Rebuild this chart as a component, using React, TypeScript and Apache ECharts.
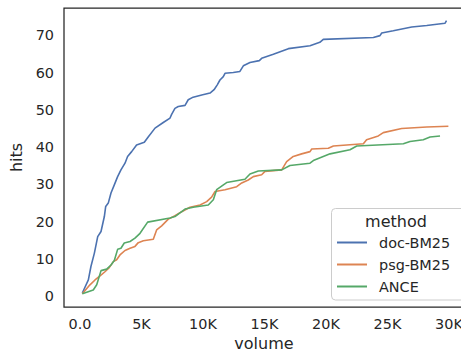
import React, { useEffect, useRef } from "react";
import * as echarts from "echarts";

const seriesNames = ["doc-BM25", "psg-BM25", "ANCE"];
const seriesColors = ["#4c72b0", "#dd8452", "#55a868"];

const xTicks = [0, 5000, 10000, 15000, 20000, 25000, 30000];
const yTicks = [0, 10, 20, 30, 40, 50, 60, 70];

const docBM25: [number, number][] = [
  [190, 0.9], [680, 4.4], [890, 8], [1170, 11.6], [1440, 16], [1710, 17.4], [1980, 21.4],
  [2090, 24.1], [2300, 25], [2520, 27.7], [2790, 29.9], [3060, 32.1], [3330, 33.9],
  [3660, 35.7], [3870, 37.5], [4200, 38.8], [4600, 40.6], [5230, 41.3], [5560, 42.8],
  [6100, 45.1], [6770, 46.6], [7320, 47.8], [7450, 48.8], [7720, 50.4], [7990, 50.9],
  [8540, 51.2], [8800, 52.7], [9200, 53.4], [9900, 54.0], [10570, 54.5], [10900, 55.4],
  [11160, 56.7], [11380, 58.0], [11650, 58.9], [11790, 59.8], [12460, 60.0], [13000, 60.3],
  [13280, 61.8], [13820, 62.7], [14580, 63.2], [14770, 63.8], [15720, 64.9], [16940, 66.4],
  [18700, 67.2], [19500, 68.1], [19780, 68.9], [23850, 69.4], [24390, 69.9], [24530, 70.6],
  [25470, 71.2], [26970, 72.2], [28190, 72.6], [29670, 73.2], [29800, 73.9],
];

const psgBM25: [number, number][] = [
  [190, 0.7], [810, 3.1], [1220, 4.4], [1630, 5.5], [2030, 6.6], [2380, 7.7], [2710, 9.3],
  [2980, 9.8], [3250, 11.1], [3660, 12.3], [4070, 12.9], [4470, 13.4], [4740, 14.4],
  [5150, 14.9], [5960, 15.3], [6230, 17.8], [6640, 18.9], [7180, 20.7], [7720, 21.6],
  [8270, 22.7], [8940, 23.9], [9760, 24.5], [10300, 25.4], [10700, 26.6], [10980, 28.1],
  [11790, 28.6], [12740, 29.4], [13150, 30.4], [13680, 31.2], [14090, 32.1], [14770, 32.6],
  [15040, 33.5], [16400, 33.9], [16800, 36.1], [17340, 37.5], [18020, 38.2], [18700, 38.8],
  [18840, 39.5], [20190, 39.7], [20600, 40.3], [23040, 40.9], [23300, 42.0], [24250, 43.0],
  [24660, 43.9], [26150, 45.0], [28190, 45.4], [29950, 45.6],
];

const ance: [number, number][] = [
  [190, 0.7], [1080, 1.7], [1360, 3.1], [1710, 6.9], [2170, 7.3], [2520, 8.4], [2790, 9.6],
  [3060, 12.6], [3330, 12.9], [3600, 14.3], [4070, 14.7], [4470, 15.6], [4880, 16.9],
  [5500, 19.9], [7320, 21.0], [7720, 21.4], [8540, 23.4], [9200, 23.9], [10430, 24.5],
  [10840, 25.9], [11110, 28.6], [11920, 30.5], [13410, 31.4], [13820, 32.8], [14500, 33.6],
  [16400, 33.9], [17070, 35.1], [18700, 35.7], [18970, 36.4], [20330, 38.2], [21950, 39.3],
  [22500, 40.3], [26290, 40.9], [26830, 41.5], [27910, 42.0], [28460, 42.7], [29270, 43.0],
];

const seriesData = [docBM25, psgBM25, ance];

const TEXT = "#262626";
const FONT = "DejaVu Sans";

export default function App() {
  const ref = useRef<HTMLDivElement>(null);
  useEffect(() => {
    if (!ref.current) return;
    const chart = echarts.init(ref.current, undefined, { renderer: "svg" });
    chart.setOption({
      animation: false,
      backgroundColor: "#ffffff",
      textStyle: { fontFamily: FONT, color: TEXT },
      grid: {
        left: 64,
        top: 8,
        width: 400,
        height: 299,
        show: true,
        borderColor: TEXT,
        borderWidth: 1.25,
        backgroundColor: "transparent",
        containLabel: false,
        outerBoundsMode: "none",
      },
      xAxis: {
        type: "value",
        min: -1300,
        max: 31220,
        name: "volume",
        nameLocation: "middle",
        nameGap: 28,
        nameTextStyle: { fontSize: 16, color: TEXT, fontFamily: FONT },
        axisLine: { show: false },
        axisTick: { show: false },
        splitLine: { show: false },
        axisLabel: {
          customValues: xTicks,
          fontSize: 14.4,
          color: TEXT,
          fontFamily: FONT,
          margin: 10,
          formatter: (v: number) => (v === 0 ? "0.0" : `${v / 1000}K`),
        },
      },
      yAxis: {
        type: "value",
        min: -2.85,
        max: 77.3,
        name: "hits",
        nameLocation: "middle",
        nameGap: 32,
        nameTextStyle: { fontSize: 16, color: TEXT, fontFamily: FONT },
        axisLine: { show: false },
        axisTick: { show: false },
        splitLine: { show: false },
        axisLabel: {
          customValues: yTicks,
          fontSize: 14.4,
          color: TEXT,
          fontFamily: FONT,
          margin: 10,
        },
      },
      legend: {
        orient: "vertical",
        left: 337,
        top: 235.5,
        itemWidth: 30,
        itemHeight: 2,
        itemGap: 8,
        icon: "rect",
        padding: 0,
        z: 10,
        textStyle: { fontSize: 14.4, color: TEXT, fontFamily: FONT, padding: [0, 0, 0, 7] },
        data: seriesNames,
      },
      graphic: [
        {
          type: "rect",
          shape: { x: 331.5, y: 208.5, width: 134, height: 91.5, r: 4 },
          style: { fill: "rgba(255,255,255,0.8)", stroke: "#cccccc", lineWidth: 1 },
          z: 3,
        },
        {
          type: "text",
          x: 396,
          y: 221,
          style: {
            text: "method",
            fontSize: 16,
            fontFamily: FONT,
            fill: TEXT,
            textAlign: "center",
            textVerticalAlign: "middle",
          },
          z: 6,
        },
      ],
      series: seriesNames.map((name, i) => ({
        name,
        type: "line",
        data: seriesData[i],
        showSymbol: false,
        symbol: "none",
        lineStyle: { color: seriesColors[i], width: 1.6 },
        itemStyle: { color: seriesColors[i] },
        z: 2,
      })),
    });
    return () => chart.dispose();
  }, []);
  return (
    <div
      ref={ref}
      style={{ position: "fixed", left: 0, top: 0, width: 461, height: 354 }}
    />
  );
}
